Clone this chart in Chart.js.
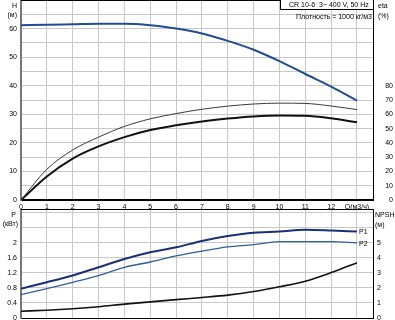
<!DOCTYPE html>
<html>
<head>
<meta charset="utf-8">
<script src="https://cdn.jsdelivr.net/npm/chart.js@4"></script>
<style>
  body { margin: 0; background: #fff; }
  #wrap { position: relative; width: 395px; height: 320px; overflow: hidden; font-family: "Liberation Sans", Arial, sans-serif; font-size: 7px; color: #000; }
  #wrap canvas { position: absolute; left: 0; }
  .t { position: absolute; line-height: 7px; white-space: nowrap; }
  #head { position: absolute; left: 280px; top: 0; width: 94px; height: 10px; box-sizing: border-box; border: 1px solid #000; border-top: none; background: #fff; }
</style>
</head>
<body>
<div id="wrap">
  <canvas id="topChart" width="395" height="209" style="top:0"></canvas>
  <canvas id="botChart" width="395" height="112" style="top:208px"></canvas>

  <div id="head"></div>
  <div class="t" style="left:289px;top:1px">CR 10-6</div>
  <div class="t" style="left:319px;top:1px">3~ 400 V, 50 Hz</div>
  <div class="t" style="left:296px;top:13px">Плотность = 1000 кг/м3</div>

  <div class="t" style="right:378px;top:2px">H</div>
  <div class="t" style="right:378px;top:11px">(м)</div>
  <div class="t" style="left:378px;top:2px">eta</div>
  <div class="t" style="left:378px;top:12px">(%)</div>

  <div class="t" style="right:379px;top:211px">P</div>
  <div class="t" style="right:377px;top:220px">(кВт)</div>
  <div class="t" style="left:375px;top:211px">NPSH</div>
  <div class="t" style="left:375px;top:221px">(м)</div>
</div>

<script>
// ---------- данные (читались с картинки) ----------
const Q = [0, 1, 2, 3, 4, 5, 6, 7, 8, 9, 10, 11, 12, 13];
const H = [61.2, 61.3, 61.5, 61.7, 61.7, 61.2, 60.0, 58.3, 55.7, 52.6, 48.6, 44.1, 39.7, 34.8];
const etaPump = [0, 21.5, 35, 44, 51.5, 56.8, 60.5, 63.5, 65.7, 67.2, 67.8, 67.6, 65.8, 63.3];
const etaTotal = [0, 16.5, 29, 37.5, 44, 49, 52.3, 55, 57, 58.5, 59.2, 59.0, 57.2, 54.4];
const P1 = [0.78, 0.95, 1.13, 1.35, 1.57, 1.75, 1.88, 2.05, 2.18, 2.27, 2.30, 2.35, 2.33, 2.30];
const P2 = [0.62, 0.78, 0.95, 1.13, 1.35, 1.49, 1.65, 1.78, 1.89, 1.95, 2.03, 2.03, 2.03, 2.00];
const NPSH = [0.45, 0.52, 0.62, 0.75, 0.92, 1.07, 1.22, 1.36, 1.52, 1.76, 2.08, 2.45, 3.02, 3.68];

const hTicks = [0, 10, 20, 30, 40, 50, 60];
const etaTicks = [0, 10, 20, 30, 40, 50, 60, 70, 80];
const pTicks = [0, 0.4, 0.8, 1.2, 1.6, 2];
const npshTicks = [0, 1, 2, 3, 4, 5];
const qLabel = "Q(м3/ч)";

const font = { family: "'Liberation Sans', Arial, sans-serif", size: 7 };
const gridColor = "#c8c8c8";

function pts(ys) {
  return Q.map((q, i) => ({ x: q, y: ys[i] }));
}

function hasTick(list, v) {
  return list.some(t => Math.abs(t - v) < 1e-6);
}

// фиксируем ширину осей, чтобы оба графика совпадали по X
function fixWidth(w) {
  return s => { s.width = w; s.paddingTop = 0; s.paddingBottom = 0; };
}
function fixHeight(h) {
  return s => { s.height = h; s.paddingLeft = 0; s.paddingRight = 0; };
}

// верхняя рамка графика
const frameTop = {
  id: "frameTop",
  afterDraw(chart) {
    const a = chart.chartArea, c = chart.ctx;
    c.save();
    c.strokeStyle = "#000";
    c.lineWidth = 1;
    c.beginPath();
    c.moveTo(a.left, Math.round(a.top) + 0.5);
    c.lineTo(a.right, Math.round(a.top) + 0.5);
    c.stroke();
    c.restore();
  }
};

// подписи P1 / P2 у конца кривых
const endLabels = {
  id: "endLabels",
  afterDatasetsDraw(chart) {
    const c = chart.ctx;
    c.save();
    c.font = "7px 'Liberation Sans', Arial, sans-serif";
    c.fillStyle = "#000";
    c.textBaseline = "middle";
    chart.data.datasets.forEach((ds, i) => {
      if (!ds.endLabel) return;
      const meta = chart.getDatasetMeta(i);
      const p = meta.data[meta.data.length - 1];
      c.fillText(ds.endLabel, p.x + 2, p.y + 1);
    });
    c.restore();
  }
};

const lineBase = { pointRadius: 0, fill: false, cubicInterpolationMode: "monotone" };

// ================== верхний график: H и КПД ==================
new Chart(document.getElementById("topChart"), {
  type: "line",
  data: {
    datasets: [
      { ...lineBase, data: pts(etaPump), yAxisID: "yEta", borderColor: "#3a3a3a", borderWidth: 1 },
      { ...lineBase, data: pts(etaTotal), yAxisID: "yEta", borderColor: "#111", borderWidth: 2 },
      { ...lineBase, data: pts(H), yAxisID: "yH", borderColor: "#1f4e96", borderWidth: 2 }
    ]
  },
  options: {
    responsive: false,
    animation: false,
    layout: { padding: { top: 0, left: 0, right: 2, bottom: 0 } },
    plugins: { legend: { display: false }, tooltip: { enabled: false } },
    scales: {
      x: {
        type: "linear", min: 0, max: 13.62,
        grid: { color: gridColor, drawTicks: false },
        border: { color: "#000", width: 2 },
        ticks: {
          stepSize: 1, includeBounds: false, autoSkip: false, maxRotation: 0,
          padding: 3, font: font, color: "#000",
          callback: v => v === 13 ? qLabel : String(v)
        },
        afterFit: fixHeight(9)
      },
      yH: {
        position: "left", min: 0, max: 70,
        grid: { color: gridColor, drawTicks: false },
        border: { color: "#777", width: 2 },
        ticks: { stepSize: 5, padding: 4, font: font, color: "#000",
          callback: v => hasTick(hTicks, v) ? String(v) : "" },
        afterFit: fixWidth(21)
      },
      yEta: {
        position: "right", min: 0, max: 140,
        grid: { display: false, drawTicks: false },
        border: { color: "#000", width: 1 },
        ticks: { stepSize: 10, crossAlign: "far", font: font, color: "#000",
          callback: v => hasTick(etaTicks, v) ? String(v) : "" },
        afterFit: fixWidth(20)
      }
    }
  },
  plugins: [frameTop]
});

// ================== нижний график: мощность и NPSH ==================
new Chart(document.getElementById("botChart"), {
  type: "line",
  data: {
    datasets: [
      { ...lineBase, data: pts(NPSH), yAxisID: "yN", borderColor: "#111", borderWidth: 1.6 },
      { ...lineBase, data: pts(P2), yAxisID: "yP", borderColor: "#2f5f9f", borderWidth: 1.3, endLabel: "P2" },
      { ...lineBase, data: pts(P1), yAxisID: "yP", borderColor: "#1a2f78", borderWidth: 2, endLabel: "P1" }
    ]
  },
  options: {
    responsive: false,
    animation: false,
    layout: { padding: { top: 1, left: 0, right: 0, bottom: 0 } },
    plugins: { legend: { display: false }, tooltip: { enabled: false } },
    scales: {
      x: {
        type: "linear", min: 0, max: 13.62,
        grid: { color: gridColor, drawTicks: false },
        border: { color: "#000", width: 1 },
        ticks: { display: false, stepSize: 1, includeBounds: false },
        afterFit: fixHeight(2)
      },
      yP: {
        position: "left", min: 0, max: 2.9,
        grid: { color: gridColor, drawTicks: false },
        border: { color: "#777", width: 2 },
        ticks: { stepSize: 0.2, includeBounds: false, padding: 4, font: font, color: "#000",
          callback: v => hasTick(pTicks, v) ? String(+v.toFixed(1)) : "" },
        afterFit: fixWidth(21)
      },
      yN: {
        position: "right", min: 0, max: 7.25,
        grid: { display: false, drawTicks: false },
        border: { color: "#000", width: 1 },
        ticks: { stepSize: 1, includeBounds: false, padding: 4, font: font, color: "#000",
          callback: v => hasTick(npshTicks, v) ? String(v) : "" },
        afterFit: fixWidth(22)
      }
    }
  },
  plugins: [frameTop, endLabels]
});
</script>
</body>
</html>
